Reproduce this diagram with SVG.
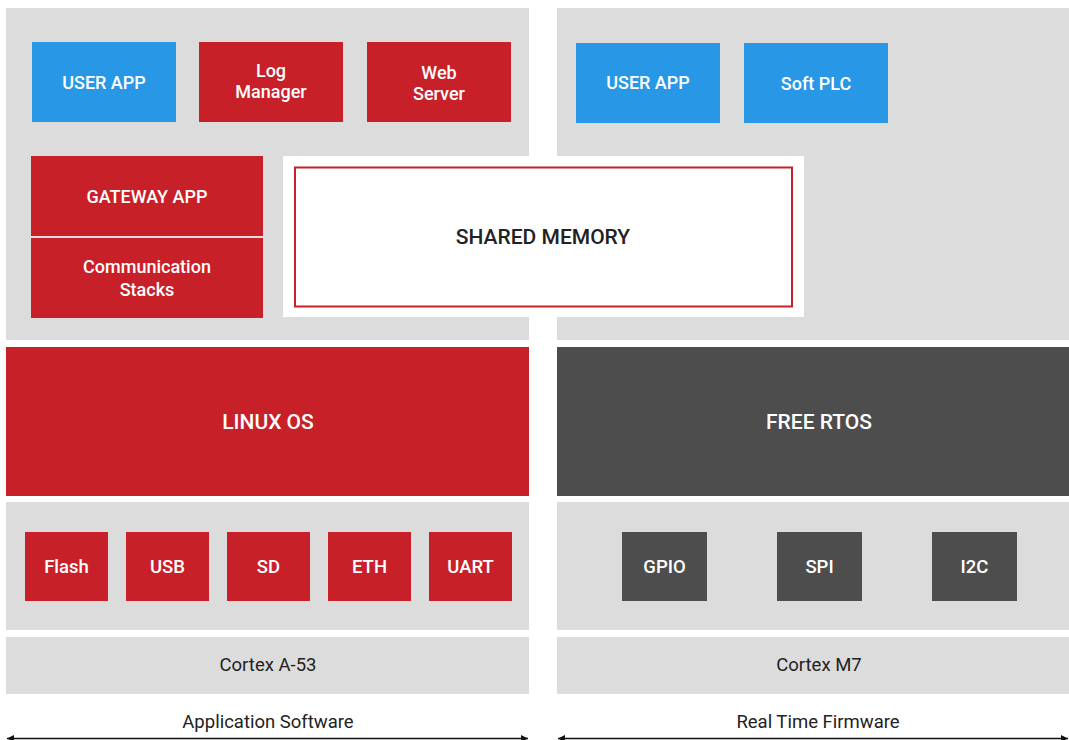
<svg xmlns="http://www.w3.org/2000/svg" width="1069" height="740" viewBox="0 0 1069 740">
<defs>
<style>
.bg{fill:#dcdcdc}
.red{fill:#c82029}
.blue{fill:#2898e6}
.dark{fill:#4d4d4d}
.t{font-family:Roboto,"Liberation Sans",sans-serif;fill:#fff;text-anchor:middle;dominant-baseline:central}
.b{font-weight:500;font-size:18px}
.m{font-weight:500;font-size:18px}
.d{font-weight:500;font-size:18.5px}
.big{font-weight:500;font-size:21px}
.k{font-family:Roboto,"Liberation Sans",sans-serif;fill:#222;text-anchor:middle;dominant-baseline:central;font-size:18.5px}
.arrow{stroke:#111;stroke-width:1.6;fill:none}
</style>
<marker id="ah" viewBox="0 0 10 10" refX="10" refY="5" markerWidth="7" markerHeight="7" orient="auto-start-reverse" markerUnits="userSpaceOnUse">
<path d="M0,0 L10,5 L0,10 z" fill="#111"/>
</marker>
</defs>
<rect width="1069" height="740" fill="#fff"/>
<g id="panels">
<rect class="bg" x="6" y="8" width="523" height="332"/>
<rect class="bg" x="557" y="8" width="512" height="332"/>
<rect class="bg" x="6" y="502" width="523" height="128"/>
<rect class="bg" x="557" y="502" width="512" height="128"/>
</g>
<g id="user-app-left"><rect class="blue" x="32" y="42" width="144" height="80"/><text class="t b" x="104" y="82">USER APP</text></g>
<g id="log-manager"><rect class="red" x="199" y="42" width="144" height="80"/><text class="t m" x="271" y="70">Log</text><text class="t m" x="271" y="91">Manager</text></g>
<g id="web-server"><rect class="red" x="367" y="42" width="144" height="80"/><text class="t m" x="439" y="72">Web</text><text class="t m" x="439" y="93">Server</text></g>
<g id="gateway-app"><rect class="red" x="31" y="156" width="232" height="80"/><text class="t b" x="147" y="196">GATEWAY APP</text></g>
<g id="comm-stacks"><rect class="red" x="31" y="238" width="232" height="80"/><text class="t m" x="147" y="266">Communication</text><text class="t m" x="147" y="289">Stacks</text></g>
<g id="shared-memory"><rect x="283" y="156" width="521" height="161" fill="#fff"/><rect x="295" y="167.5" width="497" height="139" fill="#fff" stroke="#c82029" stroke-width="2"/><text class="k" x="543" y="237" style="font-size:21px;font-weight:500">SHARED MEMORY</text></g>
<g id="user-app-right"><rect class="blue" x="576" y="43" width="144" height="80"/><text class="t b" x="648" y="82">USER APP</text></g>
<g id="soft-plc"><rect class="blue" x="744" y="43" width="144" height="80"/><text class="t b" x="816" y="83">Soft PLC</text></g>
<g id="linux-os"><rect class="red" x="6" y="347" width="523" height="149"/><text class="t big" x="268" y="422">LINUX OS</text></g>
<g id="free-rtos"><rect class="dark" x="557" y="347" width="512" height="149"/><text class="t big" x="819" y="422">FREE RTOS</text></g>
<g id="flash"><rect class="red" x="25" y="532" width="83" height="69"/><text class="t d" x="66.5" y="567">Flash</text></g>
<g id="usb"><rect class="red" x="126" y="532" width="83" height="69"/><text class="t d" x="167.5" y="567">USB</text></g>
<g id="sd"><rect class="red" x="227" y="532" width="83" height="69"/><text class="t d" x="268.5" y="567">SD</text></g>
<g id="eth"><rect class="red" x="328" y="532" width="83" height="69"/><text class="t d" x="369.5" y="567">ETH</text></g>
<g id="uart"><rect class="red" x="429" y="532" width="83" height="69"/><text class="t d" x="470.5" y="567">UART</text></g>
<g id="gpio"><rect class="dark" x="622" y="532" width="85" height="69"/><text class="t d" x="664.5" y="567">GPIO</text></g>
<g id="spi"><rect class="dark" x="777" y="532" width="85" height="69"/><text class="t d" x="819.5" y="567">SPI</text></g>
<g id="i2c"><rect class="dark" x="932" y="532" width="85" height="69"/><text class="t d" x="974.5" y="567">I2C</text></g>
<g id="cortex-a53"><rect class="bg" x="6" y="637" width="523" height="57"/><text class="k" x="268" y="665">Cortex A-53</text></g>
<g id="cortex-m7"><rect class="bg" x="557" y="637" width="512" height="57"/><text class="k" x="819" y="665">Cortex M7</text></g>
<g id="labels">
<text class="k" x="268" y="722">Application Software</text>
<text class="k" x="818" y="722">Real Time Firmware</text>
</g>
<g id="connectors">
<line class="arrow" x1="7" y1="738.5" x2="528" y2="738.5" marker-start="url(#ah)" marker-end="url(#ah)"/>
<line class="arrow" x1="558" y1="738.5" x2="1068" y2="738.5" marker-start="url(#ah)" marker-end="url(#ah)"/>
</g>
</svg>
